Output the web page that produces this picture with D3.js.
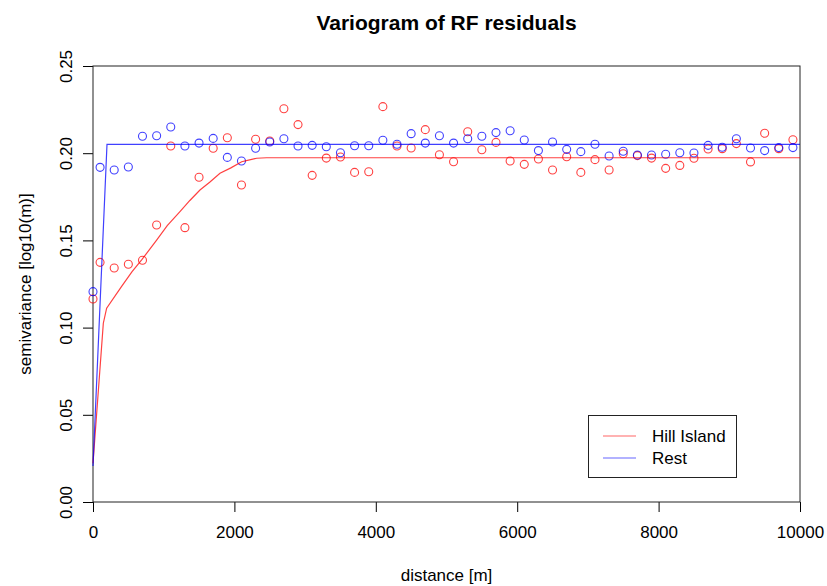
<!DOCTYPE html>
<html lang="en">
  <head>
    <meta charset="UTF-8" />
    <title>Variogram of RF residuals</title>
    <script src="https://d3js.org/d3.v7.min.js"></script>
    <style>
      body { margin: 0; background: #fff; }
      svg { font-family: "Liberation Sans", Arial, sans-serif; }
    </style>
  </head>
  <body>
    <svg id="chart"></svg>
    <script>
      // binned distances [m]
      let dist = [0, 100, 300, 500, 700, 900, 1100, 1300, 1500, 1700, 1900,
        2100, 2300, 2500, 2700, 2900, 3100, 3300, 3500, 3700, 3900,
        4100, 4300, 4500, 4700, 4900, 5100, 5300, 5500, 5700, 5900,
        6100, 6300, 6500, 6700, 6900, 7100, 7300, 7500, 7700, 7900,
        8100, 8300, 8500, 8700, 8900, 9100, 9300, 9500, 9700, 9900]

      let hillGamma = [0.1164, 0.1374, 0.1342, 0.1363, 0.1386, 0.1588, 0.2041, 0.1573, 0.1862, 0.2028, 0.2089,
        0.1818, 0.2080, 0.2070, 0.2255, 0.2164, 0.1873, 0.1972, 0.1978, 0.1890, 0.1894,
        0.2267, 0.2041, 0.2030, 0.2135, 0.1991, 0.1951, 0.2123, 0.2020, 0.2062, 0.1955,
        0.1936, 0.1967, 0.1904, 0.1980, 0.1890, 0.1963, 0.1904, 0.1997, 0.1986, 0.1972,
        0.1913, 0.1930, 0.1971, 0.2024, 0.2026, 0.2055, 0.1950, 0.2114, 0.2026, 0.2077]

      let restGamma = [0.1206, 0.1919, 0.1904, 0.1921, 0.2097, 0.2100, 0.2150, 0.2041, 0.2058, 0.2085, 0.1976,
        0.1955, 0.2028, 0.2064, 0.2083, 0.2041, 0.2045, 0.2037, 0.2003, 0.2043, 0.2043,
        0.2074, 0.2051, 0.2112, 0.2058, 0.2100, 0.2058, 0.2083, 0.2097, 0.2118, 0.2129,
        0.2076, 0.2015, 0.2064, 0.2022, 0.2009, 0.2051, 0.1984, 0.2011, 0.1990, 0.1990,
        0.1994, 0.2003, 0.2001, 0.2045, 0.2034, 0.2083, 0.2030, 0.2015, 0.2032, 0.2032]

      // fitted model lines
      let hillModelDist = [0, 146, 193, 400, 550, 688, 900, 1050, 1230, 1370, 1513, 1650, 1796, 1950, 2103, 2200, 2315, 2456, 10000]
      let hillModelGamma = [0.0222, 0.1025, 0.1111, 0.1233, 0.1319, 0.1388, 0.1502, 0.1585, 0.1665, 0.1729, 0.1789, 0.1833, 0.1885, 0.1916, 0.1951, 0.1960, 0.1971, 0.1974, 0.1974]
      let restModelDist = [0, 198, 10000]
      let restModelGamma = [0.0206, 0.2051, 0.2051]

      let xTicks = [0, 2000, 4000, 6000, 8000, 10000]
      let yTicks = [0, 0.05, 0.1, 0.15, 0.2, 0.25]
      let seriesNames = ['Hill Island', 'Rest']
      let seriesColors = ['#ff0000', '#0000ff']

      let width = 827
      let height = 586
      let mLeft = 93, mRight = 800, mTop = 66, mBottom = 502

      let svg = d3.select('#chart').attr('width', width).attr('height', height)

      let x = d3.scaleLinear().domain([0, 10000]).range([mLeft, mRight])
      let y = d3.scaleLinear().domain([0, 0.25]).range([mBottom, mTop])

      // title
      svg.append('text')
        .attr('x', (mLeft + mRight) / 2)
        .attr('y', 30)
        .attr('text-anchor', 'middle')
        .style('font-weight', 'bold')
        .style('font-size', '21px')
        .text('Variogram of RF residuals')

      // x axis
      let xAxis = svg.append('g')
        .attr('transform', `translate(0, ${mBottom})`)
        .call(d3.axisBottom(x).tickValues(xTicks).tickFormat(d3.format('d')).tickSize(10).tickPadding(14))
      xAxis.select('.domain').remove()
      xAxis.selectAll('text').style('font-size', '17px').attr('fill', '#000')
      xAxis.selectAll('line').attr('stroke', '#000')

      // y axis, labels turned
      let yAxis = svg.append('g')
        .attr('transform', `translate(${mLeft}, 0)`)
        .call(d3.axisLeft(y).tickValues(yTicks).tickFormat(d3.format('.2f')).tickSize(10))
      yAxis.select('.domain').remove()
      yAxis.selectAll('line').attr('stroke', '#000')
      yAxis.selectAll('text')
        .attr('x', null).attr('dy', null)
        .attr('text-anchor', 'middle')
        .attr('transform', 'translate(-21, 0) rotate(-90)')
        .style('font-size', '17px')
        .attr('fill', '#000')

      // axis titles
      svg.append('text')
        .attr('x', (mLeft + mRight) / 2)
        .attr('y', 581)
        .attr('text-anchor', 'middle')
        .style('font-size', '17px')
        .text('distance [m]')

      svg.append('text')
        .attr('transform', `translate(31, ${(mTop + mBottom) / 2}) rotate(-90)`)
        .attr('text-anchor', 'middle')
        .style('font-size', '17px')
        .text('semivariance [log10(m)]')

      // plot box
      svg.append('rect')
        .attr('x', mLeft).attr('y', mTop)
        .attr('width', mRight - mLeft).attr('height', mBottom - mTop)
        .attr('fill', 'none')
        .attr('stroke', '#222')
        .attr('stroke-width', 1)

      let plot = svg.append('g')

      let line = d3.line().x(d => x(d[0])).y(d => y(d[1]))

      let models = [
        d3.zip(hillModelDist, hillModelGamma),
        d3.zip(restModelDist, restModelGamma),
      ]
      let points = [
        d3.zip(dist, hillGamma),
        d3.zip(dist, restGamma),
      ]

      points.forEach((pts, i) => {
        plot.append('g')
          .selectAll('circle')
          .data(pts)
          .enter()
          .append('circle')
          .attr('cx', d => x(d[0]))
          .attr('cy', d => y(d[1]))
          .attr('r', 4)
          .attr('fill', 'none')
          .attr('stroke', seriesColors[i])
          .attr('stroke-opacity', 0.75)
          .attr('stroke-width', 1.1)
      })

      models.forEach((m, i) => {
        plot.append('path')
          .datum(m)
          .attr('d', line)
          .attr('fill', 'none')
          .attr('stroke', seriesColors[i])
          .attr('stroke-opacity', 0.75)
          .attr('stroke-width', 1.2)
      })

      // legend
      let legend = svg.append('g')
      legend.append('rect')
        .attr('x', 588.5).attr('y', 415.5)
        .attr('width', 148).attr('height', 62)
        .attr('fill', '#fff')
        .attr('stroke', '#222')
      seriesNames.forEach((name, i) => {
        legend.append('line')
          .attr('x1', 603).attr('x2', 636)
          .attr('y1', 436 + i * 22).attr('y2', 436 + i * 22)
          .attr('stroke', seriesColors[i])
          .attr('stroke-opacity', 0.6)
          .attr('stroke-width', 1.2)
        legend.append('text')
          .attr('x', 652)
          .attr('y', 442 + i * 22)
          .style('font-size', '17px')
          .text(name)
      })
    </script>
  </body>
</html>
